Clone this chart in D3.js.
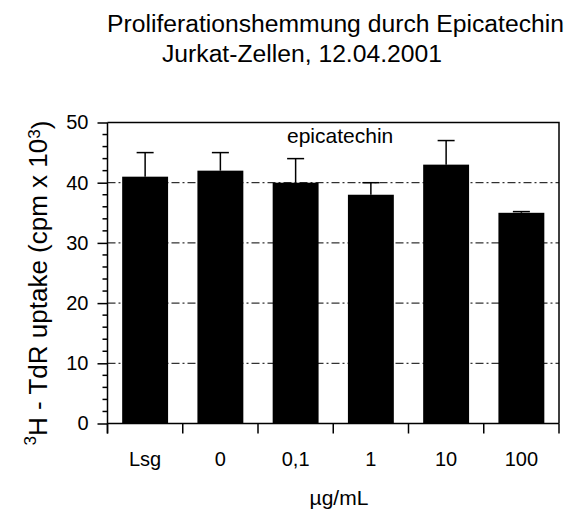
<!DOCTYPE html>
<html>
<head>
<meta charset="utf-8">
<script src="https://cdn.jsdelivr.net/npm/d3@7"></script>
<style>
  body { margin: 0; background: #fff; }
  svg text { font-family: 'Liberation Sans', Arial, sans-serif; fill: #000; }
</style>
</head>
<body>
<div id="chart"></div>
<script>
const categories = ['Lsg', '0', '0,1', '1', '10', '100'];
const uptake = [41, 42, 40, 38, 43, 35];
const errUp = [4, 3, 4, 2, 4, 0.2];
const yTicks = [0, 10, 20, 30, 40, 50];
const gridValues = [10, 20, 30, 40];
const minorTicks = d3.range(0, 51, 2).filter(d => d % 10 !== 0);

const data = categories.map((c, i) => ({ c: c, v: uptake[i], e: errUp[i] }));

const width = 567, height = 515;
const plot = { left: 107.5, right: 559, top: 122.5, bottom: 423.5 };

const svg = d3.select('#chart').append('svg')
  .attr('width', width)
  .attr('height', height);

const x = d3.scaleBand()
  .domain(categories)
  .range([plot.left, plot.right])
  .paddingInner(0.39)
  .paddingOuter(0.195);

const y = d3.scaleLinear()
  .domain([0, 50])
  .range([plot.bottom, plot.top]);

// title
svg.append('text')
  .attr('x', 107).attr('y', 32)
  .style('font-size', '24.7px')
  .text('Proliferationshemmung durch Epicatechin');
svg.append('text')
  .attr('x', 162).attr('y', 62)
  .style('font-size', '24.7px')
  .text('Jurkat-Zellen, 12.04.2001');

// dash-dot grid
svg.append('g').selectAll('line')
  .data(gridValues)
  .enter().append('line')
  .attr('x1', plot.left).attr('x2', plot.right)
  .attr('y1', d => y(d)).attr('y2', d => y(d))
  .style('stroke', '#000')
  .style('stroke-width', 1)
  .style('stroke-dasharray', '8,3,2,3');

// frame top + right
svg.append('path')
  .attr('d', `M${plot.left},${plot.top}H${plot.right}V${plot.bottom}`)
  .style('fill', 'none')
  .style('stroke', '#000')
  .style('stroke-width', 1.5);

// bars
svg.append('g').selectAll('rect')
  .data(data)
  .enter().append('rect')
  .attr('x', d => x(d.c))
  .attr('y', d => y(d.v))
  .attr('width', x.bandwidth())
  .attr('height', d => y(0) - y(d.v))
  .style('fill', '#000');

// error bars (upper only)
const err = svg.append('g').selectAll('g')
  .data(data)
  .enter().append('g')
  .attr('transform', d => `translate(${x(d.c) + x.bandwidth() / 2},0)`);

err.append('line')
  .attr('x1', 0).attr('x2', 0)
  .attr('y1', d => y(d.v)).attr('y2', d => y(d.v + d.e))
  .style('stroke', '#000').style('stroke-width', 1.5);
err.append('line')
  .attr('x1', -8.5).attr('x2', 8.5)
  .attr('y1', d => y(d.v + d.e)).attr('y2', d => y(d.v + d.e))
  .style('stroke', '#000').style('stroke-width', 1.5);

// y axis
const yAxis = svg.append('g')
  .attr('transform', `translate(${plot.left},0)`)
  .call(d3.axisLeft(y).tickValues(yTicks).tickSize(10).tickPadding(9).tickSizeOuter(0));
yAxis.select('.domain').attr('d', `M0,${plot.top}V${plot.bottom + 10}`)
  .style('stroke-width', 1.5);
yAxis.selectAll('.tick line').style('stroke-width', 1.5);
yAxis.selectAll('.tick text')
  .style('font-size', '20px')
  .style('font-family', "'Liberation Sans', Arial, sans-serif");

yAxis.selectAll('.minor')
  .data(minorTicks)
  .enter().append('line')
  .attr('class', 'minor')
  .attr('x1', -5).attr('x2', 0)
  .attr('y1', d => y(d)).attr('y2', d => y(d))
  .style('stroke', '#000').style('stroke-width', 1.5);

// x axis: ticks sit on the category boundaries
const bounds = d3.range(categories.length + 1).map(i => plot.left + i * x.step());
svg.append('line')
  .attr('x1', plot.left).attr('x2', plot.right)
  .attr('y1', plot.bottom).attr('y2', plot.bottom)
  .style('stroke', '#000').style('stroke-width', 1.5);
svg.append('g').selectAll('line')
  .data(bounds)
  .enter().append('line')
  .attr('x1', d => d).attr('x2', d => d)
  .attr('y1', plot.bottom).attr('y2', plot.bottom + 10)
  .style('stroke', '#000').style('stroke-width', 1.5);

svg.append('g').selectAll('text')
  .data(categories)
  .enter().append('text')
  .attr('x', d => x(d) + x.bandwidth() / 2)
  .attr('y', 466)
  .attr('text-anchor', 'middle')
  .style('font-size', '20px')
  .text(d => d);

// labels
svg.append('text')
  .attr('x', 287).attr('y', 143)
  .style('font-size', '21px')
  .text('epicatechin');

svg.append('text')
  .attr('x', 339).attr('y', 505)
  .attr('text-anchor', 'middle')
  .style('font-size', '21px')
  .text('µg/mL');

const ylab = svg.append('text')
  .attr('transform', 'translate(43,283) rotate(-90)')
  .attr('text-anchor', 'middle')
  .style('font-size', '26px');
ylab.append('tspan').attr('dy', '-0.4em').style('font-size', '17px').text('3');
ylab.append('tspan').attr('dy', '0.4em').text('H - TdR uptake (cpm x 10');
ylab.append('tspan').attr('dy', '-0.4em').style('font-size', '17px').text('3');
ylab.append('tspan').attr('dy', '0.4em').text(')');
</script>
</body>
</html>
